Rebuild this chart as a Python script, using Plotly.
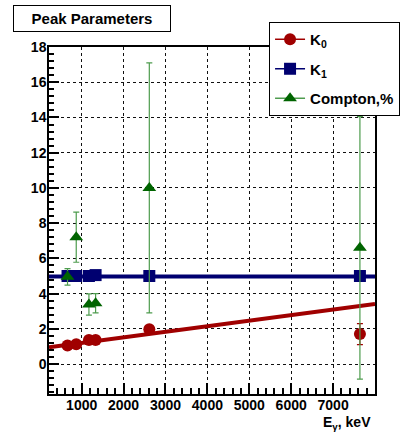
import plotly.graph_objects as go

# Gamma-line energies, keV
energy = [662, 870, 1173, 1332, 2614, 7640]

# K0 peak parameter with uncertainties
k0 = [1.05, 1.12, 1.36, 1.37, 1.97, 1.70]
k0_err = [0.05, 0.05, 0.05, 0.05, 0.08, 0.60]

# K1 peak parameter
k1 = [5.0, 5.0, 5.0, 5.05, 5.0, 5.0]

# Compton fraction, % with uncertainties
compton = [4.95, 7.2, 3.38, 3.45, 10.0, 6.6]
compton_err = [0.47, 1.42, 0.60, 0.55, 7.1, 7.45]

# Straight-line fits, evaluated at the axis ends
fit_x = [220, 8000]
k0_fit = [0.95, 3.41]
k1_fit = [4.97, 4.97]

x_ticks = [1000, 2000, 3000, 4000, 5000, 6000, 7000]
y_ticks = [0, 2, 4, 6, 8, 10, 12, 14, 16, 18]

RED = "#a00000"
BLUE = "#000070"
GREEN = "#006400"
GREEN_ERR = "#4e9c4e"
FONT = "Liberation Sans"

fig = go.Figure()

# fit lines
fig.add_trace(go.Scatter(x=fit_x, y=k0_fit, mode="lines",
                         line=dict(color=RED, width=4), showlegend=False))
fig.add_trace(go.Scatter(x=fit_x, y=k1_fit, mode="lines",
                         line=dict(color=BLUE, width=4), showlegend=False))

# measured points
fig.add_trace(go.Scatter(
    x=energy, y=k0, mode="markers", showlegend=False,
    marker=dict(symbol="circle", size=12, color=RED),
    error_y=dict(type="data", array=k0_err, color=RED, thickness=1.2, width=3)))
fig.add_trace(go.Scatter(
    x=energy, y=k1, mode="markers", showlegend=False,
    marker=dict(symbol="square", size=12, color=BLUE)))
fig.add_trace(go.Scatter(
    x=energy, y=compton, mode="markers", showlegend=False,
    marker=dict(symbol="triangle-up", size=12, color=GREEN),
    error_y=dict(type="data", array=compton_err, color=GREEN_ERR,
                 thickness=1.2, width=3)))

# legend entries (marker drawn over a line, ROOT "lep" style)
for name, sym, col, lcol in [("K<sub>0</sub>", "circle", RED, RED),
                             ("K<sub>1</sub>", "square", BLUE, BLUE),
                             ("Compton,%", "triangle-up", GREEN, GREEN_ERR)]:
    fig.add_trace(go.Scatter(
        x=[None], y=[None], mode="lines+markers", name=name, legendgroup=name,
        marker=dict(symbol=sym, size=12, color=col),
        line=dict(color=lcol, width=1.5)))

axis_common = dict(
    showline=True, linecolor="black", linewidth=1.5, mirror=True,
    ticks="inside", tickcolor="black", tickwidth=1.5,
    showgrid=True, gridcolor="#111111", gridwidth=1, griddash="dot",
    zeroline=False,
    tickfont=dict(family=FONT, size=14, color="black", weight="bold"),
)

fig.update_xaxes(**axis_common, range=[220, 8000], tickvals=x_ticks,
                 ticklen=11, ticklabelstandoff=-3,
                 minor=dict(ticks="inside", dtick=200, tick0=0, ticklen=6,
                            tickcolor="black", tickwidth=1.5, showgrid=False))
fig.update_yaxes(**axis_common, range=[-1.7, 18], tickvals=y_ticks,
                 ticklen=10, ticklabelstandoff=-2,
                 minor=dict(ticks="inside", dtick=0.4, tick0=0, ticklen=5,
                            tickcolor="black", tickwidth=1.5, showgrid=False))

fig.update_layout(
    width=404, height=434,
    margin=dict(l=49, r=29, t=47, b=40, autoexpand=False),
    paper_bgcolor="white", plot_bgcolor="white",
    legend=dict(x=0.675, y=1.072, xanchor="left", yanchor="top",
                bgcolor="white", bordercolor="black", borderwidth=1,
                tracegroupgap=7,
                font=dict(family=FONT, size=15, color="black", weight="bold")),
    annotations=[
        dict(text="Peak Parameters", xref="paper", yref="paper",
             x=0.132, y=1.082, xanchor="center", yanchor="middle",
             showarrow=False, bgcolor="white", bordercolor="black",
             borderwidth=1, borderpad=2, width=152, height=21,
             font=dict(family=FONT, size=15, color="black", weight="bold")),
        dict(text="E<sub>γ</sub>, keV", xref="paper", yref="paper",
             x=0.994, y=-0.098, xanchor="right", yanchor="bottom",
             yshift=-6, showarrow=False,
             font=dict(family=FONT, size=14, color="black", weight="bold")),
    ],
)

fig.write_html("out.html")
